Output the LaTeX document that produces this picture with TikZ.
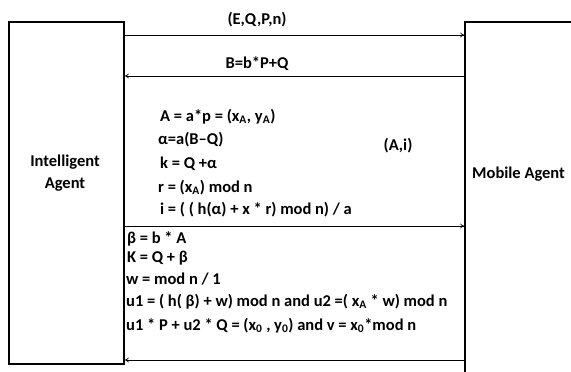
\documentclass[tikz,border=0pt]{standalone}
\usepackage{fontspec}
\setmainfont{Carlito}
\usetikzlibrary{arrows.meta}
\begin{document}
\begin{tikzpicture}[x=1pt,y=-1pt,
  agent/.style={draw=black,line width=1.6pt,rectangle,inner sep=0pt},
  msg/.style={line width=0.7pt,-{To[length=4pt,width=5pt]}},
  lbl/.style={font=\fontsize{16.5}{22}\selectfont\bfseries,inner sep=0pt},
  eq/.style={font=\fontsize{16.5}{22}\selectfont\bfseries,inner sep=0pt,anchor=base west}]
\clip (0,0) rectangle (571,372);
\fill[white] (0,0) rectangle (571,372);
% agents
\node[agent,minimum width=115pt,minimum height=342pt] (ia) at (66.5,193) {};
\node[agent,minimum width=140pt,minimum height=380pt] (ma) at (535,212) {};
\node[lbl,anchor=base] (ialbl1) at (65,166) {Intelligent};
\node[lbl,anchor=base] (ialbl2) at (65,188) {Agent};
\node[lbl,anchor=base west] (malbl) at (472,178) {Mobile Agent};
% coordinates on the boxes
\coordinate (l1) at (ia.east |- 0,35);  \coordinate (r1) at (ma.west |- 0,35);
\coordinate (l2) at (ia.east |- 0,76);  \coordinate (r2) at (ma.west |- 0,76);
\coordinate (l3) at (ia.east |- 0,226); \coordinate (r3) at (ma.west |- 0,226);
\coordinate (l4) at (ia.east |- 0,360); \coordinate (r4) at (ma.west |- 0,360);
% messages
\draw[msg] (l1) -- (r1);
\node[lbl,anchor=base] (m1) at (257,24) {(E,Q,P,n)};
\draw[msg] (r2) -- (l2);
\node[lbl,anchor=base] (m2) at (257,68) {B=b*P+Q};
\draw[msg] (l3) -- (r3);
\node[lbl,anchor=base] (m3) at (398,150) {(A,i)};
\draw[msg] (r4) -- (l4);
% computations of the intelligent agent
\node[eq] (e1) at (160,121) {A = a*p = (x\textsubscript{A}, y\textsubscript{A})};
\node[eq] (e2) at (158,144) {α=a(B–Q)};
\node[eq] (e3) at (160,168) {k = Q +α};
\node[eq] (e4) at (158,192) {r = (x\textsubscript{A}) mod n};
\node[eq] (e5) at (160,214) {i = ( ( h(α) + x * r) mod n) / a};
% computations of the mobile agent
\node[eq] (f1) at (127,243) {β = b * A};
\node[eq] (f2) at (127,262) {K = Q + β};
\node[eq] (f3) at (126,284) {w = mod n / 1};
\node[eq] (f4) at (126,306) {u1 = ( h( β) + w) mod n and u2 =( x\textsubscript{A} * w) mod n};
\node[eq] (f5) at (126,330) {u1 * P + u2 * Q = (x\textsubscript{0} , y\textsubscript{0}) and v = x\textsubscript{0}*mod n};
\end{tikzpicture}
\end{document}
